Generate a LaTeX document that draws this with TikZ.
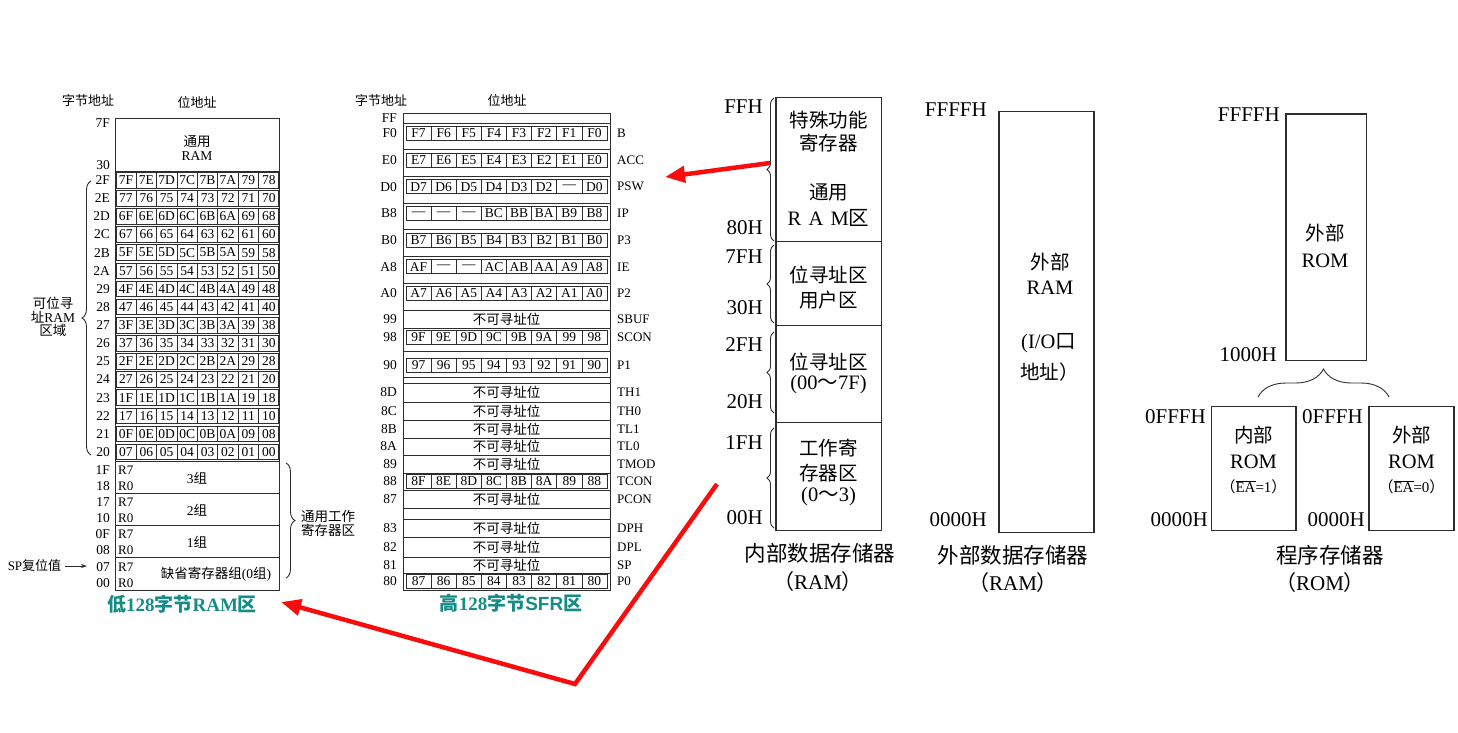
\documentclass[tikz,border=0pt]{standalone}
\usepackage{fontspec}
\setmainfont{Liberation Serif}
\newfontfamily\cjk{Noto Sans CJK SC}
\newfontfamily\lsans{Liberation Sans}
\usetikzlibrary{decorations.pathreplacing,arrows.meta}
\newcommand{\zh}[1]{{\cjk #1}}
\newcommand{\setfs}[1]{\fontsize{#1}{#1}\selectfont}
\definecolor{tealcap}{RGB}{22,140,135}
\definecolor{arrowred}{RGB}{250,12,12}
\definecolor{ink}{RGB}{45,45,45}
\tikzset{
  tbl/.style={draw=ink,line width=0.75pt},
  memb/.style={draw=ink,line width=1.2pt},
  brc/.style={draw=ink,line width=0.9pt,decorate},
  cellL/.style={inner sep=0pt,font=\setfs{13.5}},
  cellM/.style={inner sep=0pt,font=\setfs{13.5}},
  hdr/.style={inner sep=0pt,font=\setfs{13}\cjk},
  addrL/.style={inner sep=0pt,anchor=east,font=\setfs{13.5}},
  regR/.style={inner sep=0pt,anchor=west,font=\setfs{13}},
  big/.style={inner sep=0pt,font=\setfs{20.5}},
  bigzh/.style={inner sep=0pt,font=\setfs{19.5}\cjk},
  addrB/.style={inner sep=0pt,anchor=east,font=\setfs{21}},
  capt/.style={inner sep=0pt,font=\setfs{21}},
  tcap/.style={inner sep=0pt,font=\setfs{19}\bfseries,text=tealcap},
  redarr/.style={draw=arrowred,line width=4.5pt,line join=miter,-{Triangle[length=20pt,width=16pt]}},
}
\newcommand{\bitrow}[3]{%
  \draw[tbl] (406,#2-7) rectangle (607,#2+7);
  \foreach \j in {1,...,7}{\draw[tbl] ({406+\j*25.125},#2-7) -- ++(0,14);}
  \foreach \bt [count=\j from 0] in {#3}{\node[cellM] (#1-\j) at ({406+(\j+0.5)*25.125},#2) {\bt};}
}
\begin{document}
\begin{tikzpicture}[x=1pt,y=-1pt]
\useasboundingbox (0,0) rectangle (1458,733);
% ================= Left table (low 128 bytes)
\node[hdr] (lh1) at (88,101) {字节地址};
\node[hdr] (lh2) at (197,103) {位地址};
\draw[tbl] (115.7,118) rectangle (279,590);
\draw[tbl] (115.7,171) -- (279,171);
\node[cellL,align=center,font=\fontsize{13.5}{14.5}\selectfont] (gram) at (197,148) {\zh{通用}\\RAM};
\node[addrL] (a7f) at (110,123) {7F};
\node[addrL] (a30) at (110,165) {30};
\foreach \i in {0,...,15}{
  \pgfmathsetmacro{\rt}{171+\i*18.125}
  \pgfmathsetmacro{\rc}{\rt+9.1}
  \draw[tbl] (116.4,\rt+1.3) rectangle (278.3,\rt+16.9);
  \foreach \j in {1,...,7}{\draw[tbl] ({115.7+\j*20.4125},\rt+1.3) -- ++(0,15.6);}
  \foreach \j in {0,...,7}{
    \pgfmathtruncatemacro{\v}{(15-\i)*8+7-\j}
    \pgfmathparse{Hex(\v)}\let\hx\pgfmathresult
    \node[cellL] (b\i-\j) at ({115.7+(\j+0.5)*20.4125},\rc) {\ifnum\v<16 0\fi\hx};
  }
  \pgfmathtruncatemacro{\bv}{47-\i}
  \pgfmathparse{Hex(\bv)}\let\byx\pgfmathresult
  \node[addrL] (ba\i) at (110,\rc) {\byx};
}
\foreach \k/\hi/\lo in {0/1F/18,1/17/10,2/0F/08,3/07/00}{
  \pgfmathsetmacro{\bkt}{461+\k*32.25}
  \draw[tbl] (115.7,\bkt) -- (279,\bkt);
  \node[cellL,anchor=west,font=\setfs{13}] (rs\k) at (118,\bkt+9) {R7};
  \node[cellL,anchor=west,font=\setfs{13}] (rz\k) at (118,\bkt+25) {R0};
  \node[addrL] (bh\k) at (110,\bkt+9) {\hi};
  \node[addrL] (bl\k) at (110,\bkt+25) {\lo};
}
\node[cellL] (g3) at (197,478) {3\zh{组}};
\node[cellL] (g2) at (197,510) {2\zh{组}};
\node[cellL] (g1) at (197,542) {1\zh{组}};
\node[cellL] (g0) at (216,574) {\zh{缺省寄存器组}(0\zh{组})};
% brace: bit addressable area
\draw[brc,decoration={brace,amplitude=9pt}] (91,455) -- (91,181);
\node[inner sep=0pt,align=center,font=\fontsize{13.5}{13.5}\selectfont] (bitarea) at (53,317) {\zh{可位寻}\\\zh{址}RAM\\\zh{区域}};
% brace: working registers
\draw[brc,decoration={brace,amplitude=9pt}] (286,463) -- (286,578);
\node[inner sep=0pt,align=center,font=\fontsize{13.5}{14}\selectfont\cjk] (wreg) at (328,523) {通用工作\\寄存器区};
% SP reset
\node[inner sep=0pt,font=\setfs{13}] (sp) at (34.5,566) {SP\zh{复位值}};
\coordinate (spa) at (87,566);
\draw[ink,line width=0.8pt,-{Stealth[length=6pt,width=4pt]},shorten <=4pt] (sp.east) -- (spa);
\node[tcap] (cap1) at (182,604) {\zh{低}128\zh{字节}RAM\zh{区}};
% ================= Middle table (SFR)
\node[hdr] (mh1) at (381,101) {字节地址};
\node[hdr] (mh2) at (507,101) {位地址};
\draw[tbl] (403.3,113) rectangle (610,590);
\foreach \yy in {123,149.7,176.4,203.1,229.8,256.5,283.2,310,328,351,377,383,402,420,438,455,473,490,508,519,537,557,573}
  \draw[tbl] (403.3,\yy) -- (610,\yy);
\bitrow{F0}{133.3}{F7,F6,F5,F4,F3,F2,F1,F0}
\bitrow{E0}{160}{E7,E6,E5,E4,E3,E2,E1,E0}
\bitrow{D0}{186.7}{D7,D6,D5,D4,D3,D2,—,D0}
\bitrow{B8}{213.4}{—,—,—,BC,BB,BA,B9,B8}
\bitrow{B0}{240.1}{B7,B6,B5,B4,B3,B2,B1,B0}
\bitrow{A8}{266.8}{AF,—,—,AC,AB,AA,A9,A8}
\bitrow{A0}{293.5}{A7,A6,A5,A4,A3,A2,A1,A0}
\bitrow{S98}{337}{9F,9E,9D,9C,9B,9A,99,98}
\bitrow{S90}{365}{97,96,95,94,93,92,91,90}
\bitrow{S88}{481.5}{8F,8E,8D,8C,8B,8A,89,88}
\bitrow{S80}{581.5}{87,86,85,84,83,82,81,80}
\foreach \yy/\nn in {319/s1,392.5/s2,411/s3,429/s4,446.5/s5,464/s6,499/s7,528/s8,547/s9,565/s10}
  \node[inner sep=0pt,font=\setfs{13.5}\cjk] (na\nn) at (506.5,\yy) {不可寻址位};
\foreach \tt/\yy in {FF/118,F0/133.3,E0/160,D0/186.7,B8/213.4,B0/240.1,A8/266.8,A0/293.5,99/319,98/337,90/365,8D/392.5,8C/411,8B/429,8A/446.5,89/464,88/481.5,87/499,83/528,82/547,81/565,80/581.5}
  \node[addrL] (m\tt) at (397,\yy) {\tt};
\foreach \tt/\yy in {B/133.3,ACC/160,PSW/186.7,IP/213.4,P3/240.1,IE/266.8,P2/293.5,SBUF/319,SCON/337,P1/365,TH1/392.5,TH0/411,TL1/429,TL0/446.5,TMOD/464,TCON/481.5,PCON/499,DPH/528,DPL/547,SP/565,P0/581.5}
  \node[regR] (reg\tt) at (617,\yy) {\tt};
\node[tcap] (cap2) at (511,603) {\zh{高}128\zh{字节}{\lsans\bfseries SFR}\zh{区}};
% ================= Internal RAM
\draw[memb] (776,97.7) rectangle (881.7,530.7);
\draw[memb] (776,241.7) -- (881.7,241.7);
\draw[memb] (776,325.7) -- (881.7,325.7);
\draw[memb] (776,422.3) -- (881.7,422.3);
\node[bigzh] (t1) at (828.5,120) {特殊功能};
\node[bigzh] (t2) at (828.5,143) {寄存器};
\node[bigzh] (t3) at (828.5,192) {通用};
\node[big] (t4) at (828.5,218) {R\hspace{0.35em}A\hspace{0.35em}M\zh{区}};
\node[bigzh] (t5) at (828.5,275) {位寻址区};
\node[bigzh] (t6) at (828.5,300) {用户区};
\node[bigzh] (t7) at (828.5,362) {位寻址区};
\node[big] (t8) at (828.5,385) {(00\zh{～}7F)};
\node[bigzh] (t9) at (828.5,448) {工作寄};
\node[bigzh] (t10) at (828.5,473) {存器区};
\node[big] (t11) at (828.5,497) {(0\zh{～}3)};
\node[addrB] (iffh) at (763,107) {FFH};
\node[addrB] (i80h) at (763,228) {80H};
\node[addrB] (i7fh) at (763,257) {7FH};
\node[addrB] (i30h) at (763,308) {30H};
\node[addrB] (i2fh) at (763,345) {2FH};
\node[addrB] (i20h) at (763,402) {20H};
\node[addrB] (i1fh) at (763,443) {1FH};
\node[addrB] (i00h) at (763,518) {00H};
\draw[brc,decoration={brace,amplitude=7pt}] (774,241) -- (774,98);
\draw[brc,decoration={brace,amplitude=7pt}] (774,323) -- (774,245);
\draw[brc,decoration={brace,amplitude=7pt}] (774,413) -- (774,332);
\draw[brc,decoration={brace,amplitude=7pt}] (774,528) -- (774,428);
\node[capt,font=\setfs{21.5}\cjk] (c1a) at (820,553) {内部数据存储器};
\node[capt] (c1b) at (818,582) {\zh{（}RAM\zh{）}};
% ================= External RAM
\draw[memb] (999,111.7) rectangle (1094,532.7);
\node[addrB] (effff) at (987,110) {FFFFH};
\node[addrB] (e0000) at (987,520) {0000H};
\node[bigzh] (e1) at (1050,262) {外部};
\node[big] (e2) at (1050,288) {RAM};
\node[big,anchor=west] (e3) at (1021,343) {(I/O\zh{口}};
\node[bigzh,anchor=west] (e4) at (1020,372) {地址）};
\node[capt,font=\setfs{21.5}\cjk] (c2a) at (1013,555) {外部数据存储器};
\node[capt] (c2b) at (1013,583) {\zh{（}RAM\zh{）}};
% ================= Program memory
\draw[memb] (1286,114) rectangle (1366.7,360.7);
\node[addrB] (pffff) at (1280,115) {FFFFH};
\node[addrB] (p1000) at (1277,355) {1000H};
\node[bigzh] (p1) at (1325,233) {外部};
\node[big] (p2) at (1325,261) {ROM};
\draw[brc,decoration={brace,amplitude=28pt}] (1258,397) -- (1389,397);
\draw[memb] (1211.7,406.7) rectangle (1296,530.7);
\draw[memb] (1369,406.7) rectangle (1454,530.7);
\node[addrB] (q1) at (1206,417) {0FFFH};
\node[addrB] (q2) at (1208,520) {0000H};
\node[addrB] (q3) at (1363,417) {0FFFH};
\node[addrB] (q4) at (1365,520) {0000H};
\node[bigzh] (ir1) at (1253.5,435) {内部};
\node[big] (ir2) at (1253.5,462) {ROM};
\node[inner sep=0pt,font=\setfs{15}] (ir3) at (1253.5,487) {\zh{（}$\overline{\mbox{EA}}$=1\zh{）}};
\node[bigzh] (xr1) at (1411.5,435) {外部};
\node[big] (xr2) at (1411.5,462) {ROM};
\node[inner sep=0pt,font=\setfs{15}] (xr3) at (1411.5,487) {\zh{（}$\overline{\mbox{EA}}$=0\zh{）}};
\node[capt,font=\setfs{21.5}\cjk] (c3a) at (1330,555) {程序存储器};
\node[capt] (c3b) at (1320,583) {\zh{（}ROM\zh{）}};
% ================= Red arrows
\coordinate (r1s) at (770,163);
\coordinate (r1e) at (665,177);
\draw[redarr] (r1s) -- (r1e);
\coordinate (r2s) at (717,484);
\coordinate (r2m) at (575,684);
\coordinate (r2e) at (281,602);
\draw[redarr] (r2s) -- (r2m) -- (r2e);
\end{tikzpicture}
\end{document}
